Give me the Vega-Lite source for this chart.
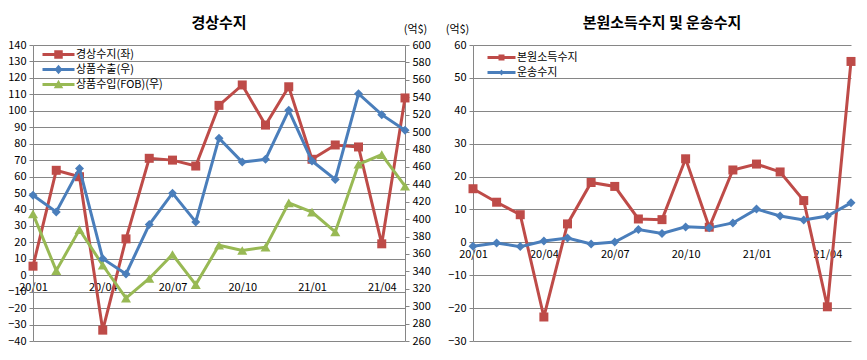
{
  "$schema": "https://vega.github.io/schema/vega-lite/v6.json",
  "background": "white",
  "padding": {"left": 7, "top": 16, "right": 5, "bottom": 5},
  "spacing": 14,
  "config": {
    "font": "Noto Sans CJK KR",
    "view": {"stroke": null},
    "axis": {"labelFont": "Noto Sans CJK KR", "labelFontSize": 11, "labelColor": "#000000", "domainColor": "#868686", "tickColor": "#868686", "gridColor": "#868686", "gridOpacity": 1, "titleFont": "Noto Sans CJK KR", "titleFontWeight": "normal", "titleFontSize": 11, "titleColor": "#000000", "tickSize": 4, "labelPadding": 3},
    "legend": {"labelFont": "Noto Sans CJK KR", "labelFontSize": 11, "labelColor": "#000000", "symbolOpacity": 1, "symbolSize": 100, "symbolStrokeWidth": 0},
    "title": {"font": "Noto Sans CJK KR", "fontSize": 15, "fontWeight": "bold", "color": "#000000"}
  },
  "resolve": {"scale": {"color": "independent", "shape": "independent"}, "legend": {"color": "independent", "shape": "independent"}},
  "datasets": {
    "cur": [
      {"m": "20/01", "s": "경상수지(좌)", "v": 5.5}, {"m": "20/02", "s": "경상수지(좌)", "v": 63.8}, {"m": "20/03", "s": "경상수지(좌)", "v": 59.9}, {"m": "20/04", "s": "경상수지(좌)", "v": -33.4}, {"m": "20/05", "s": "경상수지(좌)", "v": 22.1}, {"m": "20/06", "s": "경상수지(좌)", "v": 71.1}, {"m": "20/07", "s": "경상수지(좌)", "v": 70}, {"m": "20/08", "s": "경상수지(좌)", "v": 66.4}, {"m": "20/09", "s": "경상수지(좌)", "v": 103.3}, {"m": "20/10", "s": "경상수지(좌)", "v": 115.7}, {"m": "20/11", "s": "경상수지(좌)", "v": 91.3}, {"m": "20/12", "s": "경상수지(좌)", "v": 114.6}, {"m": "21/01", "s": "경상수지(좌)", "v": 70.5}, {"m": "21/02", "s": "경상수지(좌)", "v": 79.2}, {"m": "21/03", "s": "경상수지(좌)", "v": 78}, {"m": "21/04", "s": "경상수지(좌)", "v": 19.1}, {"m": "21/05", "s": "경상수지(좌)", "v": 107.8},
      {"m": "20/01", "s": "상품수출(우)", "v": 427.5}, {"m": "20/02", "s": "상품수출(우)", "v": 408.3}, {"m": "20/03", "s": "상품수출(우)", "v": 458}, {"m": "20/04", "s": "상품수출(우)", "v": 354.6}, {"m": "20/05", "s": "상품수출(우)", "v": 337}, {"m": "20/06", "s": "상품수출(우)", "v": 393.7}, {"m": "20/07", "s": "상품수출(우)", "v": 429.8}, {"m": "20/08", "s": "상품수출(우)", "v": 396.8}, {"m": "20/09", "s": "상품수출(우)", "v": 493}, {"m": "20/10", "s": "상품수출(우)", "v": 465.5}, {"m": "20/11", "s": "상품수출(우)", "v": 468.7}, {"m": "20/12", "s": "상품수출(우)", "v": 525}, {"m": "21/01", "s": "상품수출(우)", "v": 466.7}, {"m": "21/02", "s": "상품수출(우)", "v": 445.5}, {"m": "21/03", "s": "상품수출(우)", "v": 544}, {"m": "21/04", "s": "상품수출(우)", "v": 520}, {"m": "21/05", "s": "상품수출(우)", "v": 502},
      {"m": "20/01", "s": "상품수입(FOB)(우)", "v": 406}, {"m": "20/02", "s": "상품수입(FOB)(우)", "v": 340.8}, {"m": "20/03", "s": "상품수입(FOB)(우)", "v": 388}, {"m": "20/04", "s": "상품수입(FOB)(우)", "v": 347}, {"m": "20/05", "s": "상품수입(FOB)(우)", "v": 309.2}, {"m": "20/06", "s": "상품수입(FOB)(우)", "v": 331.8}, {"m": "20/07", "s": "상품수입(FOB)(우)", "v": 359.4}, {"m": "20/08", "s": "상품수입(FOB)(우)", "v": 324.8}, {"m": "20/09", "s": "상품수입(FOB)(우)", "v": 370}, {"m": "20/10", "s": "상품수입(FOB)(우)", "v": 364}, {"m": "20/11", "s": "상품수입(FOB)(우)", "v": 367.7}, {"m": "20/12", "s": "상품수입(FOB)(우)", "v": 418.7}, {"m": "21/01", "s": "상품수입(FOB)(우)", "v": 408}, {"m": "21/02", "s": "상품수입(FOB)(우)", "v": 385.3}, {"m": "21/03", "s": "상품수입(FOB)(우)", "v": 463}, {"m": "21/04", "s": "상품수입(FOB)(우)", "v": 474}, {"m": "21/05", "s": "상품수입(FOB)(우)", "v": 437.8}
    ],
    "inc": [
      {"m": "20/01", "s": "본원소득수지", "v": 16.3}, {"m": "20/02", "s": "본원소득수지", "v": 12.2}, {"m": "20/03", "s": "본원소득수지", "v": 8.4}, {"m": "20/04", "s": "본원소득수지", "v": -22.7}, {"m": "20/05", "s": "본원소득수지", "v": 5.6}, {"m": "20/06", "s": "본원소득수지", "v": 18.2}, {"m": "20/07", "s": "본원소득수지", "v": 17}, {"m": "20/08", "s": "본원소득수지", "v": 7.1}, {"m": "20/09", "s": "본원소득수지", "v": 6.9}, {"m": "20/10", "s": "본원소득수지", "v": 25.4}, {"m": "20/11", "s": "본원소득수지", "v": 4.6}, {"m": "20/12", "s": "본원소득수지", "v": 22}, {"m": "21/01", "s": "본원소득수지", "v": 23.8}, {"m": "21/02", "s": "본원소득수지", "v": 21.4}, {"m": "21/03", "s": "본원소득수지", "v": 12.7}, {"m": "21/04", "s": "본원소득수지", "v": -19.6}, {"m": "21/05", "s": "본원소득수지", "v": 55},
      {"m": "20/01", "s": "운송수지", "v": -1.2}, {"m": "20/02", "s": "운송수지", "v": -0.2}, {"m": "20/03", "s": "운송수지", "v": -1.3}, {"m": "20/04", "s": "운송수지", "v": 0.4}, {"m": "20/05", "s": "운송수지", "v": 1.3}, {"m": "20/06", "s": "운송수지", "v": -0.5}, {"m": "20/07", "s": "운송수지", "v": 0.1}, {"m": "20/08", "s": "운송수지", "v": 3.9}, {"m": "20/09", "s": "운송수지", "v": 2.7}, {"m": "20/10", "s": "운송수지", "v": 4.7}, {"m": "20/11", "s": "운송수지", "v": 4.4}, {"m": "20/12", "s": "운송수지", "v": 5.9}, {"m": "21/01", "s": "운송수지", "v": 10.1}, {"m": "21/02", "s": "운송수지", "v": 8}, {"m": "21/03", "s": "운송수지", "v": 6.8}, {"m": "21/04", "s": "운송수지", "v": 8}, {"m": "21/05", "s": "운송수지", "v": 12}
    ]
  },
  "hconcat": [
    {
      "width": 372,
      "height": 296,
      "title": {"text": "경상수지", "frame": "group", "offset": -8},
      "data": {"name": "cur"},
      "encoding": {
        "x": {"field": "m", "type": "ordinal", "sort": null, "scale": {"type": "point", "padding": 0},
          "axis": {"values": ["20/01", "20/04", "20/07", "20/10", "21/01", "21/04"], "labelAngle": 0, "title": null, "domain": false, "ticks": false, "offset": -66, "labelPadding": 6, "grid": false}},
        "color": {"field": "s", "type": "nominal",
          "scale": {"domain": ["경상수지(좌)", "상품수출(우)", "상품수입(FOB)(우)"], "range": ["#BE4B48", "#4A7EBB", "#98B954"]},
          "legend": {"orient": "none", "legendX": 20, "legendY": 4, "title": null, "labelOffset": 12, "rowPadding": 3}}
      },
      "layer": [
        {
          "transform": [{"filter": "datum.s === '경상수지(좌)'"}],
          "encoding": {"y": {"field": "v", "type": "quantitative", "scale": {"domain": [-40, 140], "nice": false, "zero": false},
            "axis": {"orient": "left", "values": [-40, -30, -20, -10, 0, 10, 20, 30, 40, 50, 60, 70, 80, 90, 100, 110, 120, 130, 140], "grid": true, "title": null}}},
          "layer": [
            {"mark": {"type": "line", "strokeWidth": 3}},
            {"mark": {"type": "point", "shape": "square", "filled": true, "opacity": 1, "size": 81}},
            {"mark": {"type": "point", "filled": true, "opacity": 0, "size": 4},
             "encoding": {"shape": {"field": "s", "type": "nominal", "legend": null,
               "scale": {"domain": ["경상수지(좌)", "상품수출(우)", "상품수입(FOB)(우)"],
                 "range": ["M-3.2,-0.3L3.2,-0.3L3.2,0.3L-3.2,0.3Z M-0.85,-0.85L0.85,-0.85L0.85,0.85L-0.85,0.85Z", "M-3.2,-0.3L3.2,-0.3L3.2,0.3L-3.2,0.3Z M0,-0.95L0.8,0L0,0.95L-0.8,0Z", "M-3.2,-0.3L3.2,-0.3L3.2,0.3L-3.2,0.3Z M0,-0.95L0.95,0.75L-0.95,0.75Z"]}}}}
          ]
        },
        {
          "transform": [{"filter": "datum.s !== '경상수지(좌)'"}],
          "encoding": {"y": {"field": "v", "type": "quantitative", "scale": {"domain": [260, 600], "nice": false, "zero": false},
            "axis": {"orient": "right", "values": [260, 280, 300, 320, 340, 360, 380, 400, 420, 440, 460, 480, 500, 520, 540, 560, 580, 600], "grid": false, "title": "(억$)", "titleAngle": 0, "titleX": 10, "titleY": -16, "titleAlign": "center", "titleBaseline": "middle"}}},
          "layer": [
            {"mark": {"type": "line", "strokeWidth": 3}},
            {"transform": [{"filter": "datum.s === '상품수출(우)'"}], "mark": {"type": "point", "shape": "diamond", "filled": true, "opacity": 1, "size": 81}},
            {"transform": [{"filter": "datum.s === '상품수입(FOB)(우)'"}], "mark": {"type": "point", "shape": "triangle-up", "filled": true, "opacity": 1, "size": 100}}
          ]
        }
      ],
      "resolve": {"scale": {"y": "independent"}}
    },
    {
      "width": 378,
      "height": 296,
      "title": {"text": "본원소득수지 및 운송수지", "frame": "group", "offset": -8},
      "data": {"name": "inc"},
      "encoding": {
        "x": {"field": "m", "type": "ordinal", "sort": null, "scale": {"type": "point", "padding": 0},
          "axis": {"values": ["20/01", "20/04", "20/07", "20/10", "21/01", "21/04"], "labelAngle": 0, "title": null, "domain": false, "ticks": false, "offset": -99, "labelPadding": 6, "grid": false}},
        "y": {"field": "v", "type": "quantitative", "scale": {"domain": [-30, 60], "nice": false, "zero": false},
          "axis": {"values": [-30, -20, -10, 0, 10, 20, 30, 40, 50, 60], "grid": true, "title": "(억$)", "titleAngle": 0, "titleX": -16, "titleY": -16, "titleAlign": "center", "titleBaseline": "middle"}},
        "color": {"field": "s", "type": "nominal",
          "scale": {"domain": ["본원소득수지", "운송수지"], "range": ["#BE4B48", "#4A7EBB"]},
          "legend": {"orient": "none", "legendX": 23, "legendY": 7, "title": null, "labelOffset": 10, "rowPadding": 3}}
      },
      "layer": [
        {"mark": {"type": "line", "strokeWidth": 3}},
        {"transform": [{"filter": "datum.s === '본원소득수지'"}], "mark": {"type": "point", "shape": "square", "filled": true, "opacity": 1, "size": 81}},
        {"transform": [{"filter": "datum.s === '운송수지'"}], "mark": {"type": "point", "shape": "diamond", "filled": true, "opacity": 1, "size": 81}},
        {"mark": {"type": "point", "filled": true, "opacity": 0, "size": 4},
         "encoding": {"shape": {"field": "s", "type": "nominal", "legend": null,
           "scale": {"domain": ["본원소득수지", "운송수지"],
             "range": ["M-2.8,-0.3L2.8,-0.3L2.8,0.3L-2.8,0.3Z M-0.6,-0.6L0.6,-0.6L0.6,0.6L-0.6,0.6Z", "M-2.8,-0.3L2.8,-0.3L2.8,0.3L-2.8,0.3Z M0,-0.6L0.5,0L0,0.6L-0.5,0Z"]}}}}
      ]
    }
  ]
}
